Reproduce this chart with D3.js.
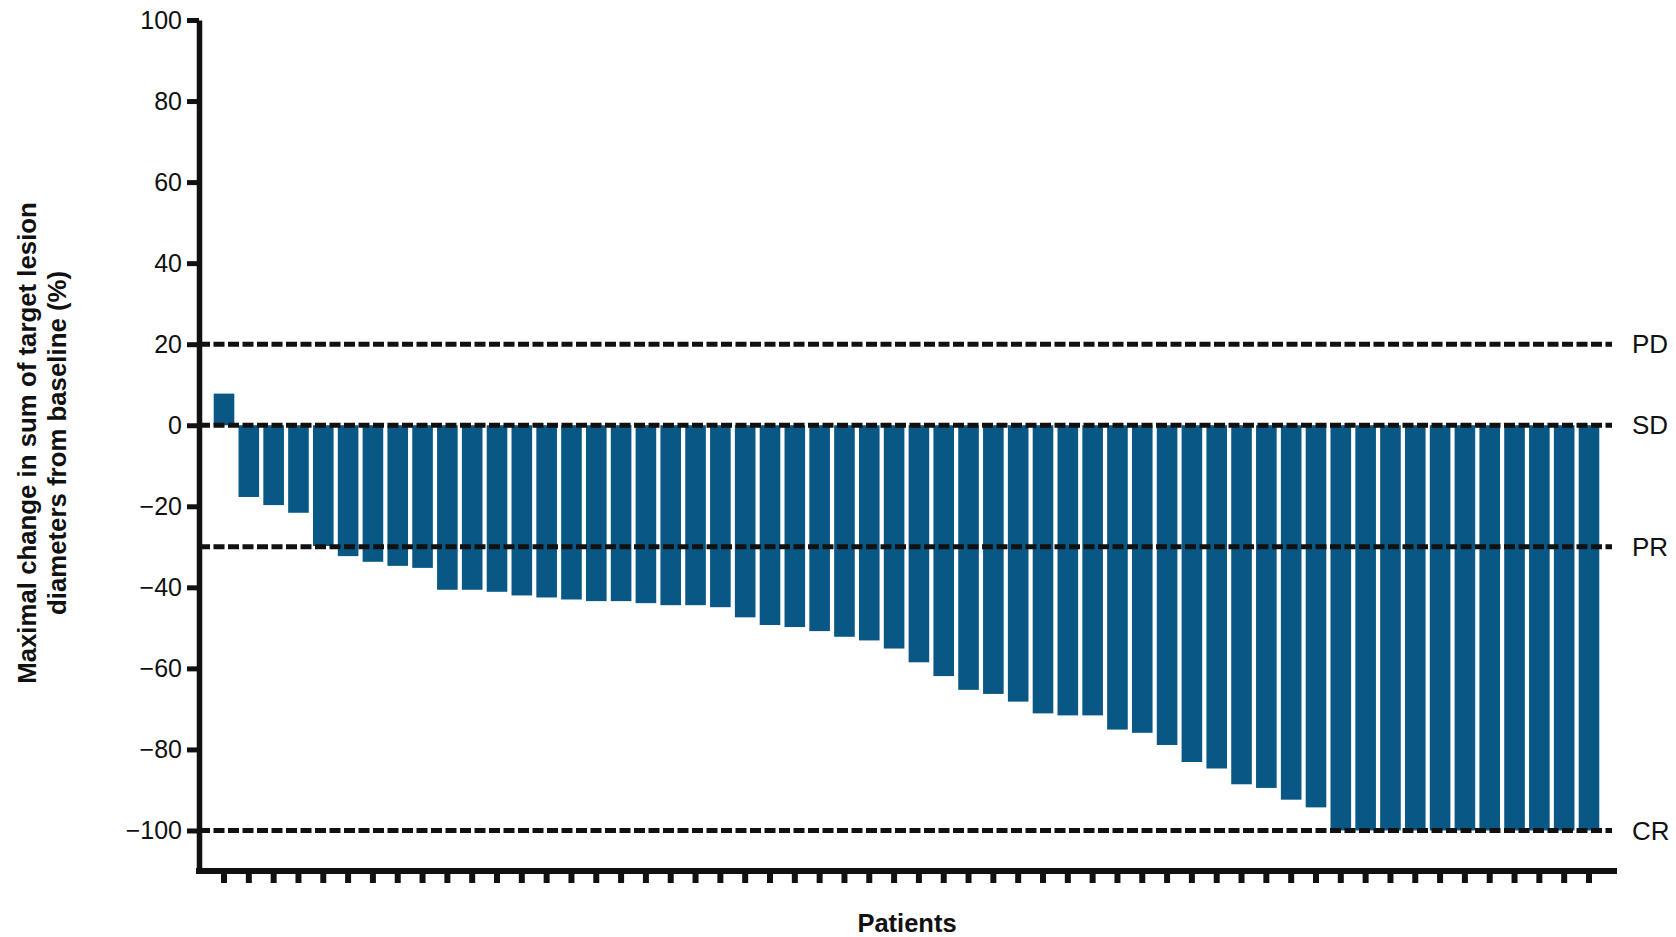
<!DOCTYPE html>
<html>
<head>
<meta charset="utf-8">
<script src="https://cdn.jsdelivr.net/npm/d3@7"></script>
<style>
  html, body { margin: 0; padding: 0; background: #fff; }
  svg { display: block; font-family: "Liberation Sans", Arial, sans-serif; }
</style>
</head>
<body>
<svg id="chart" width="1676" height="937"></svg>
<script>
// Best percentage change of target lesions per patient, sorted (waterfall plot)
const patientIds = d3.range(1, 57).map(i => "P" + i);
const changeValues = [
  7.8, -17.7, -19.7, -21.6, -29.8, -32.3, -33.7, -34.7, -35.2, -40.6,
  -40.6, -41.1, -42.0, -42.5, -43.0, -43.4, -43.4, -43.9, -44.4, -44.4,
  -44.9, -47.4, -49.3, -49.8, -50.8, -52.2, -53.1, -55.1, -58.5, -61.9,
  -65.3, -66.3, -68.2, -71.1, -71.6, -71.6, -75.1, -75.9, -78.9, -83.1,
  -84.7, -88.6, -89.5, -92.4, -94.3, -100, -100, -100, -100, -100,
  -100, -100, -100, -100, -100, -100
];
const yTickValues = [100, 80, 60, 40, 20, 0, -20, -40, -60, -80, -100];
const thresholdLabels = ["PD", "SD", "PR", "CR"];
const thresholdValues = [20, 0, -30, -100];
const yTitleLines = ["Maximal change in sum of target lesion", "diameters from baseline (%)"];
const xTitle = "Patients";

const data = patientIds.map((id, i) => ({ id, value: changeValues[i] }));
const thresholds = thresholdLabels.map((label, i) => ({ label, value: thresholdValues[i] }));

const svg = d3.select("#chart");
const axisX = 199, axisY = 871, plotRight = 1617;

const y = d3.scaleLinear().domain([-110, 100]).range([axisY, 20]);
const x = d3.scaleBand()
  .domain(patientIds)
  .range([211.6, 1601.4])
  .paddingInner(0.17)
  .paddingOuter(0.085);

const barColor = "#085784";
const ink = "#111";

// Bars
svg.append("g")
  .selectAll("rect")
  .data(data)
  .join("rect")
  .attr("x", d => x(d.id))
  .attr("width", x.bandwidth())
  .attr("y", d => y(Math.max(0, d.value)))
  .attr("height", d => Math.abs(y(d.value) - y(0)))
  .attr("fill", barColor);

// Response threshold lines
const thr = svg.append("g");
thr.selectAll("line")
  .data(thresholds)
  .join("line")
  .attr("x1", axisX)
  .attr("x2", 1612)
  .attr("y1", d => y(d.value))
  .attr("y2", d => y(d.value))
  .attr("stroke", ink)
  .attr("stroke-width", 5)
  .attr("stroke-dasharray", "11,3.5");
thr.selectAll("text")
  .data(thresholds)
  .join("text")
  .attr("x", 1632)
  .attr("y", d => y(d.value))
  .attr("dy", "0.35em")
  .attr("font-size", 26)
  .attr("fill", ink)
  .text(d => d.label);

// Y axis
const yAxis = svg.append("g")
  .attr("transform", `translate(${axisX},0)`)
  .call(d3.axisLeft(y).tickValues(yTickValues).tickSize(12).tickSizeOuter(0).tickPadding(5));
yAxis.select(".domain").attr("stroke", ink).attr("stroke-width", 5.5);
yAxis.selectAll(".tick line").attr("stroke", ink).attr("stroke-width", 5);
yAxis.selectAll(".tick text")
  .attr("font-size", 25)
  .attr("fill", ink)
  .attr("font-family", "'Liberation Sans', Arial, sans-serif");

// X axis: one tick per patient, no labels
const xAxis = svg.append("g")
  .attr("transform", `translate(0,${axisY})`)
  .call(d3.axisBottom(x).tickSize(12).tickSizeOuter(0).tickFormat(""));
xAxis.select(".domain").remove();
xAxis.selectAll(".tick line").attr("stroke", ink).attr("stroke-width", 6);
svg.append("line")
  .attr("x1", axisX - 3)
  .attr("x2", plotRight)
  .attr("y1", axisY)
  .attr("y2", axisY)
  .attr("stroke", ink)
  .attr("stroke-width", 6);

// Axis titles
svg.append("text")
  .attr("transform", "translate(0,443) rotate(-90)")
  .attr("text-anchor", "middle")
  .attr("font-weight", "bold")
  .attr("font-size", 25.8)
  .attr("fill", ink)
  .selectAll("tspan")
  .data(yTitleLines)
  .join("tspan")
  .attr("x", 0)
  .attr("y", (d, i) => 36 + i * 30)
  .text(d => d);

svg.append("text")
  .attr("x", 907)
  .attr("y", 932)
  .attr("text-anchor", "middle")
  .attr("font-weight", "bold")
  .attr("font-size", 25.5)
  .attr("fill", ink)
  .text(xTitle);
</script>
</body>
</html>
